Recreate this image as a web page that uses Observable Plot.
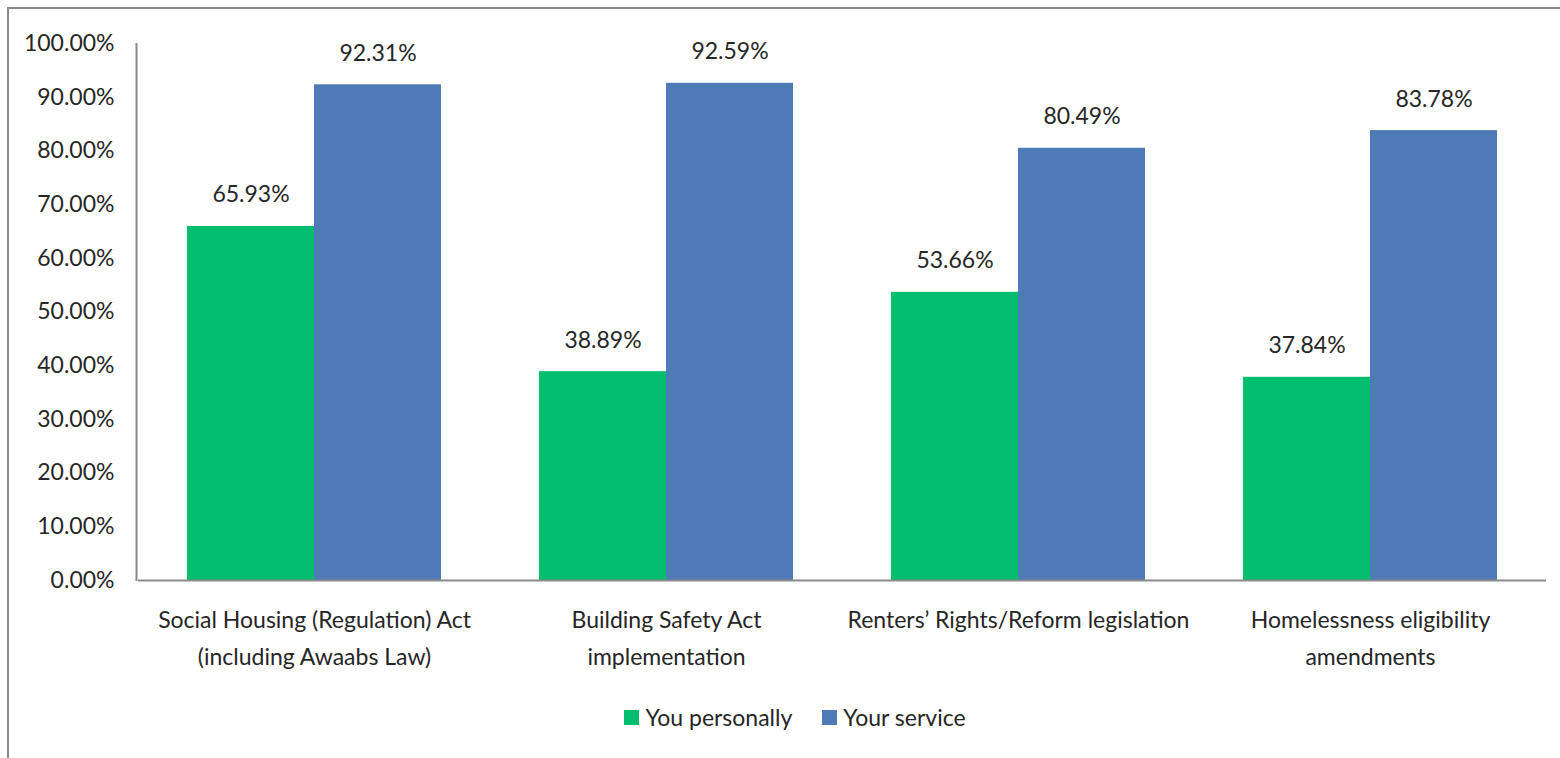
<!DOCTYPE html>
<html>
<head>
<meta charset="utf-8">
<script src="https://cdn.jsdelivr.net/npm/d3@7"></script>
<script src="https://cdn.jsdelivr.net/npm/@observablehq/plot@0.6"></script>
<style>
  body { margin: 0; background: #fff; }
  #wrap { position: relative; width: 1560px; height: 758px; overflow: hidden; background: #fff;
          font-family: Lato, "DejaVu Sans Condensed", sans-serif; color: #262626; }
  #frame { position: absolute; left: 7px; top: 7px; width: 1600px; height: 800px;
           border-left: 2px solid #8a8a8a; border-top: 2px solid #8a8a8a; }
  #chart { position: absolute; left: 0; top: 0; }
  #legend { position: absolute; top: 703px; left: 0; width: 1590px; display: flex; justify-content: center;
            align-items: center; font-size: 23px; gap: 30px; }
  .item { display: flex; align-items: center; gap: 6px; }
  .sw { width: 15px; height: 15px; display: inline-block; }
</style>
</head>
<body>
<div id="wrap">
  <div id="frame"></div>
  <div id="chart"></div>
  <div id="legend"></div>
</div>
<script>
const categories = [
  "Social Housing (Regulation) Act\n(including Awaabs Law)",
  "Building Safety Act\nimplementation",
  "Renters’ Rights/Reform legislation",
  "Homelessness eligibility\namendments"
];
const series = ["You personally", "Your service"];
const youPersonally = [65.93, 38.89, 53.66, 37.84];
const yourService = [92.31, 92.59, 80.49, 83.78];
const yTicks = [0, 10, 20, 30, 40, 50, 60, 70, 80, 90, 100];
const colors = ["#00BE6E", "#4E7AB5"];

const data = [];
categories.forEach((c, i) => {
  data.push({category: c, series: series[0], value: youPersonally[i]});
  data.push({category: c, series: series[1], value: yourService[i]});
});

const FONT = 'Lato, "DejaVu Sans Condensed", sans-serif';
const FS = 23;
const fmt = d => d.toFixed(2) + "%";

const chart = Plot.plot({
  width: 1560,
  height: 690,
  marginLeft: 137,
  marginRight: 14,
  marginTop: 43,
  marginBottom: 110,
  style: {fontFamily: FONT, fontSize: FS + "px", color: "#262626", background: "transparent"},
  fx: {domain: categories, padding: 0, label: null},
  x: {domain: series, paddingInner: 0, paddingOuter: 0.38, axis: null},
  y: {domain: [0, 100], label: null},
  color: {domain: series, range: colors},
  marks: [
    Plot.axisY({ticks: yTicks, tickSize: 0, tickPadding: 24, tickFormat: fmt, fontSize: FS, label: null}),
    Plot.axisFx({anchor: "bottom", tickSize: 0, tickPadding: 21, label: null, fontSize: FS, lineHeight: 1.62}),
    Plot.barY(data, {fx: "category", x: "series", y: "value", fill: "series"}),
    Plot.ruleY([0], {stroke: "#8a8a8a", strokeWidth: 2}),
    Plot.text(data, {fx: "category", x: "series", y: "value", text: d => fmt(d.value), dy: -24, lineAnchor: "bottom", fontSize: FS, fill: "#262626"})
  ]
});
document.getElementById("chart").appendChild(chart);

// y axis line at the left edge of the plot frame, positioned from the y scale
const ys = chart.scale("y");
d3.select(chart).append("line")
  .attr("x1", 136.5).attr("x2", 136.5)
  .attr("y1", ys.apply(100)).attr("y2", ys.apply(0) + 1)
  .attr("stroke", "#8a8a8a").attr("stroke-width", 2);

const legend = document.getElementById("legend");
series.forEach((s, i) => {
  const it = document.createElement("div");
  it.className = "item";
  const sw = document.createElement("span");
  sw.className = "sw";
  sw.style.background = colors[i];
  const t = document.createElement("span");
  t.textContent = s;
  it.appendChild(sw); it.appendChild(t);
  legend.appendChild(it);
});
</script>
</body>
</html>
